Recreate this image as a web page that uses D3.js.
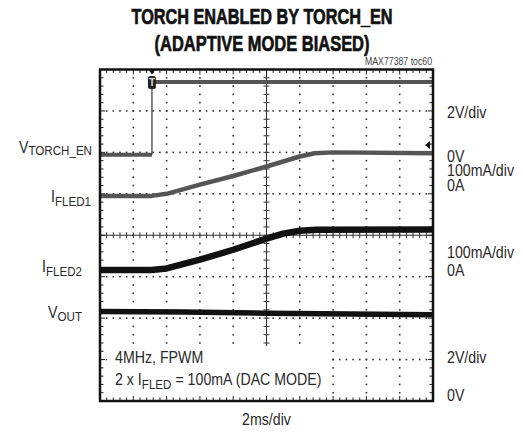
<!DOCTYPE html>
<html><head><meta charset="utf-8">
<script src="https://cdn.jsdelivr.net/npm/d3@7"></script>
<style>
html,body{margin:0;padding:0;background:#fff;}
svg{display:block;}
text{font-family:"Liberation Sans",Arial,sans-serif;fill:#2a2a2a;}
</style></head>
<body>
<svg id="c" width="523" height="435"></svg>
<script>
// ---- data (time in ms, levels in scope divisions from bottom) ----
const titleLines = ["TORCH ENABLED BY TORCH_EN", "(ADAPTIVE MODE BIASED)"];
const noteText = "MAX77387 toc60";
const xDivs = 10, yDivs = 8, msPerDiv = 2;
const enTime = [0, 3.12, 3.12, 20];
const enDiv  = [5.94, 5.94, 7.70, 7.70];
const fled1Time = [0, 3.1, 4, 6, 8, 10, 12, 12.9, 14, 20];
const fled1Div  = [4.95, 4.95, 5.0, 5.22, 5.43, 5.66, 5.9, 5.98, 6.0, 5.98];
const fled2Time = [0, 3.1, 4, 6, 8, 10, 11, 12, 13, 20];
const fled2Div  = [3.16, 3.16, 3.2, 3.41, 3.65, 3.92, 4.04, 4.11, 4.13, 4.14];
const voutTime = [0, 5, 10, 15, 20];
const voutDiv  = [2.16, 2.15, 2.12, 2.10, 2.08];
const rightLabels = ["2V/div", "0V", "100mA/div", "0A", "100mA/div", "0A", "2V/div", "0V"];
const xAxisLabel = "2ms/div";

const svg = d3.select("#c");
const L = 100, R = 433, T = 69.5, B = 401;
const x = d3.scaleLinear().domain([0, xDivs * msPerDiv]).range([L, R]);
const y = d3.scaleLinear().domain([0, yDivs]).range([B, T]);
const SX = 0.86, FS = 16.5, SUB = 13.5;

function ctext(px, py, anchor, size) {
  return svg.append("g").attr("transform", `translate(${px},${py}) scale(${SX},1)`)
    .append("text").attr("x", 0).attr("y", 0).attr("text-anchor", anchor || "start")
    .attr("font-size", size || FS);
}

// title
[[titleLines[0], 24, 261], [titleLines[1], 51, 215]].forEach(([t, by, w]) => {
  svg.append("text").attr("x", 262).attr("y", by).attr("text-anchor", "middle")
    .attr("font-size", 22.5).attr("font-weight", "bold")
    .attr("textLength", w).attr("lengthAdjust", "spacingAndGlyphs")
    .attr("stroke", "#111").attr("stroke-width", 0.7)
    .style("fill", "#111").text(t);
});
svg.append("text").attr("x", 432).attr("y", 65).attr("text-anchor", "end")
  .attr("font-size", 10).attr("textLength", 67).attr("lengthAdjust", "spacingAndGlyphs")
  .style("fill", "#444").text(noteText);

// grid dots
const grid = svg.append("g").attr("fill", "#333");
for (let i = 1; i < xDivs; i++) {
  if (i === xDivs / 2) continue;
  for (let k = 0; k <= yDivs * 5; k++) {
    grid.append("rect").attr("x", x(i * msPerDiv) - 0.8).attr("y", y(k / 5) - 0.8)
      .attr("width", 1.6).attr("height", 1.6);
  }
}
for (let j = 1; j < yDivs; j++) {
  if (j === yDivs / 2) continue;
  for (let k = 0; k <= xDivs * 5; k++) {
    grid.append("rect").attr("x", x(k * msPerDiv / 5) - 0.8).attr("y", y(j) - 0.8)
      .attr("width", 1.6).attr("height", 1.6);
  }
}
// centre axes
const ax = svg.append("g").attr("stroke", "#333").attr("stroke-width", 1);
ax.append("line").attr("x1", L).attr("x2", R).attr("y1", y(yDivs / 2)).attr("y2", y(yDivs / 2));
ax.append("line").attr("x1", x(xDivs)).attr("x2", x(xDivs)).attr("y1", T).attr("y2", B);
for (let k = 0; k <= xDivs * 5; k++) {
  ax.append("line").attr("x1", x(k * msPerDiv / 5)).attr("x2", x(k * msPerDiv / 5))
    .attr("y1", y(yDivs / 2) - 3).attr("y2", y(yDivs / 2) + 3);
}
for (let k = 0; k <= yDivs * 5; k++) {
  ax.append("line").attr("x1", x(xDivs) - 3).attr("x2", x(xDivs) + 3)
    .attr("y1", y(k / 5)).attr("y2", y(k / 5));
}

// white note box
svg.append("rect").attr("x", 107).attr("y", 346).attr("width", 222).attr("height", 51).attr("fill", "#fff");

// frame ticks
const ft = svg.append("g").attr("stroke", "#222").attr("stroke-width", 1);
for (let k = 0; k <= xDivs * 5; k++) {
  const xx = x(k * msPerDiv / 5), len = k % 5 === 0 ? 5 : 3.5;
  ft.append("line").attr("x1", xx).attr("x2", xx).attr("y1", B).attr("y2", B - len);
  ft.append("line").attr("x1", xx).attr("x2", xx).attr("y1", T).attr("y2", T + len);
}
for (let k = 0; k <= yDivs * 5; k++) {
  const yy = y(k / 5), len = k % 5 === 0 ? 5 : 3.5;
  ft.append("line").attr("x1", L).attr("x2", L + len).attr("y1", yy).attr("y2", yy);
  ft.append("line").attr("x1", R).attr("x2", R - len).attr("y1", yy).attr("y2", yy);
}

// traces
const line = d3.line().x(d => x(d[0])).y(d => y(d[1]));
const zipT = (ts, vs) => ts.map((t, i) => [t, vs[i]]);
const en = zipT(enTime, enDiv);
for (let i = 0; i < en.length - 1; i++) {
  const vertical = en[i][0] === en[i + 1][0];
  svg.append("path").attr("d", line([en[i], en[i + 1]])).attr("fill", "none")
    .attr("stroke", vertical ? "#333" : "#555").attr("stroke-width", vertical ? 1.2 : 4);
}
svg.append("path").attr("d", line(zipT(fled1Time, fled1Div))).attr("fill", "none")
  .attr("stroke", "#555").attr("stroke-width", 4.5).attr("stroke-linejoin", "round");
svg.append("path").attr("d", line(zipT(fled2Time, fled2Div))).attr("fill", "none")
  .attr("stroke", "#111").attr("stroke-width", 6.5).attr("stroke-linejoin", "round");
svg.append("path").attr("d", line(zipT(voutTime, voutDiv))).attr("fill", "none")
  .attr("stroke", "#111").attr("stroke-width", 5.5).attr("stroke-linejoin", "round");

// trigger marker
const tx = x(enTime[1]);
svg.append("path").attr("d", `M${tx - 3.5},${T}L${tx + 3.5},${T}L${tx},${T + 5}Z`).attr("fill", "#111");
svg.append("rect").attr("x", tx - 4).attr("y", y(enDiv[2]) - 6).attr("width", 8).attr("height", 13)
  .attr("rx", 2.5).attr("fill", "#222");
svg.append("text").attr("x", tx).attr("y", y(enDiv[2]) + 4).attr("text-anchor", "middle")
  .attr("font-size", 10).attr("font-weight", "bold").style("fill", "#ddd").text("T");
// ground marker
const gy = 145;
svg.append("path").attr("d", `M${R - 8},${gy}L${R - 3},${gy - 4}L${R - 3},${gy + 4}Z`).attr("fill", "#111");

// frame
svg.append("rect").attr("x", L).attr("y", T).attr("width", R - L).attr("height", B - T)
  .attr("fill", "none").attr("stroke", "#111").attr("stroke-width", 2.5);

// left labels
function subLabel(xr, by, main, sub, dy) {
  const t = ctext(xr, by, "end");
  t.append("tspan").text(main);
  t.append("tspan").attr("font-size", SUB).attr("dy", dy).text(sub);
}
subLabel(92, 153, "V", "TORCH_EN", 2);
subLabel(91, 202, "I", "FLED1", 4);
subLabel(82, 272, "I", "FLED2", 4);
subLabel(82, 318, "V", "OUT", 3);

// right labels
const rY = [118, 162, 176, 191, 258, 276, 363, 401];
rightLabels.forEach((t, i) => ctext(447, rY[i], "start").text(t));

// annotation
ctext(115, 363, "start").text("4MHz, FPWM");
const an = ctext(115, 385, "start");
an.append("tspan").text("2 x I");
an.append("tspan").attr("font-size", SUB).attr("dy", 4).text("FLED");
an.append("tspan").attr("dy", -4).text(" = 100mA (DAC MODE)");

ctext(266.5, 425, "middle").text(xAxisLabel);
</script>
</body></html>
